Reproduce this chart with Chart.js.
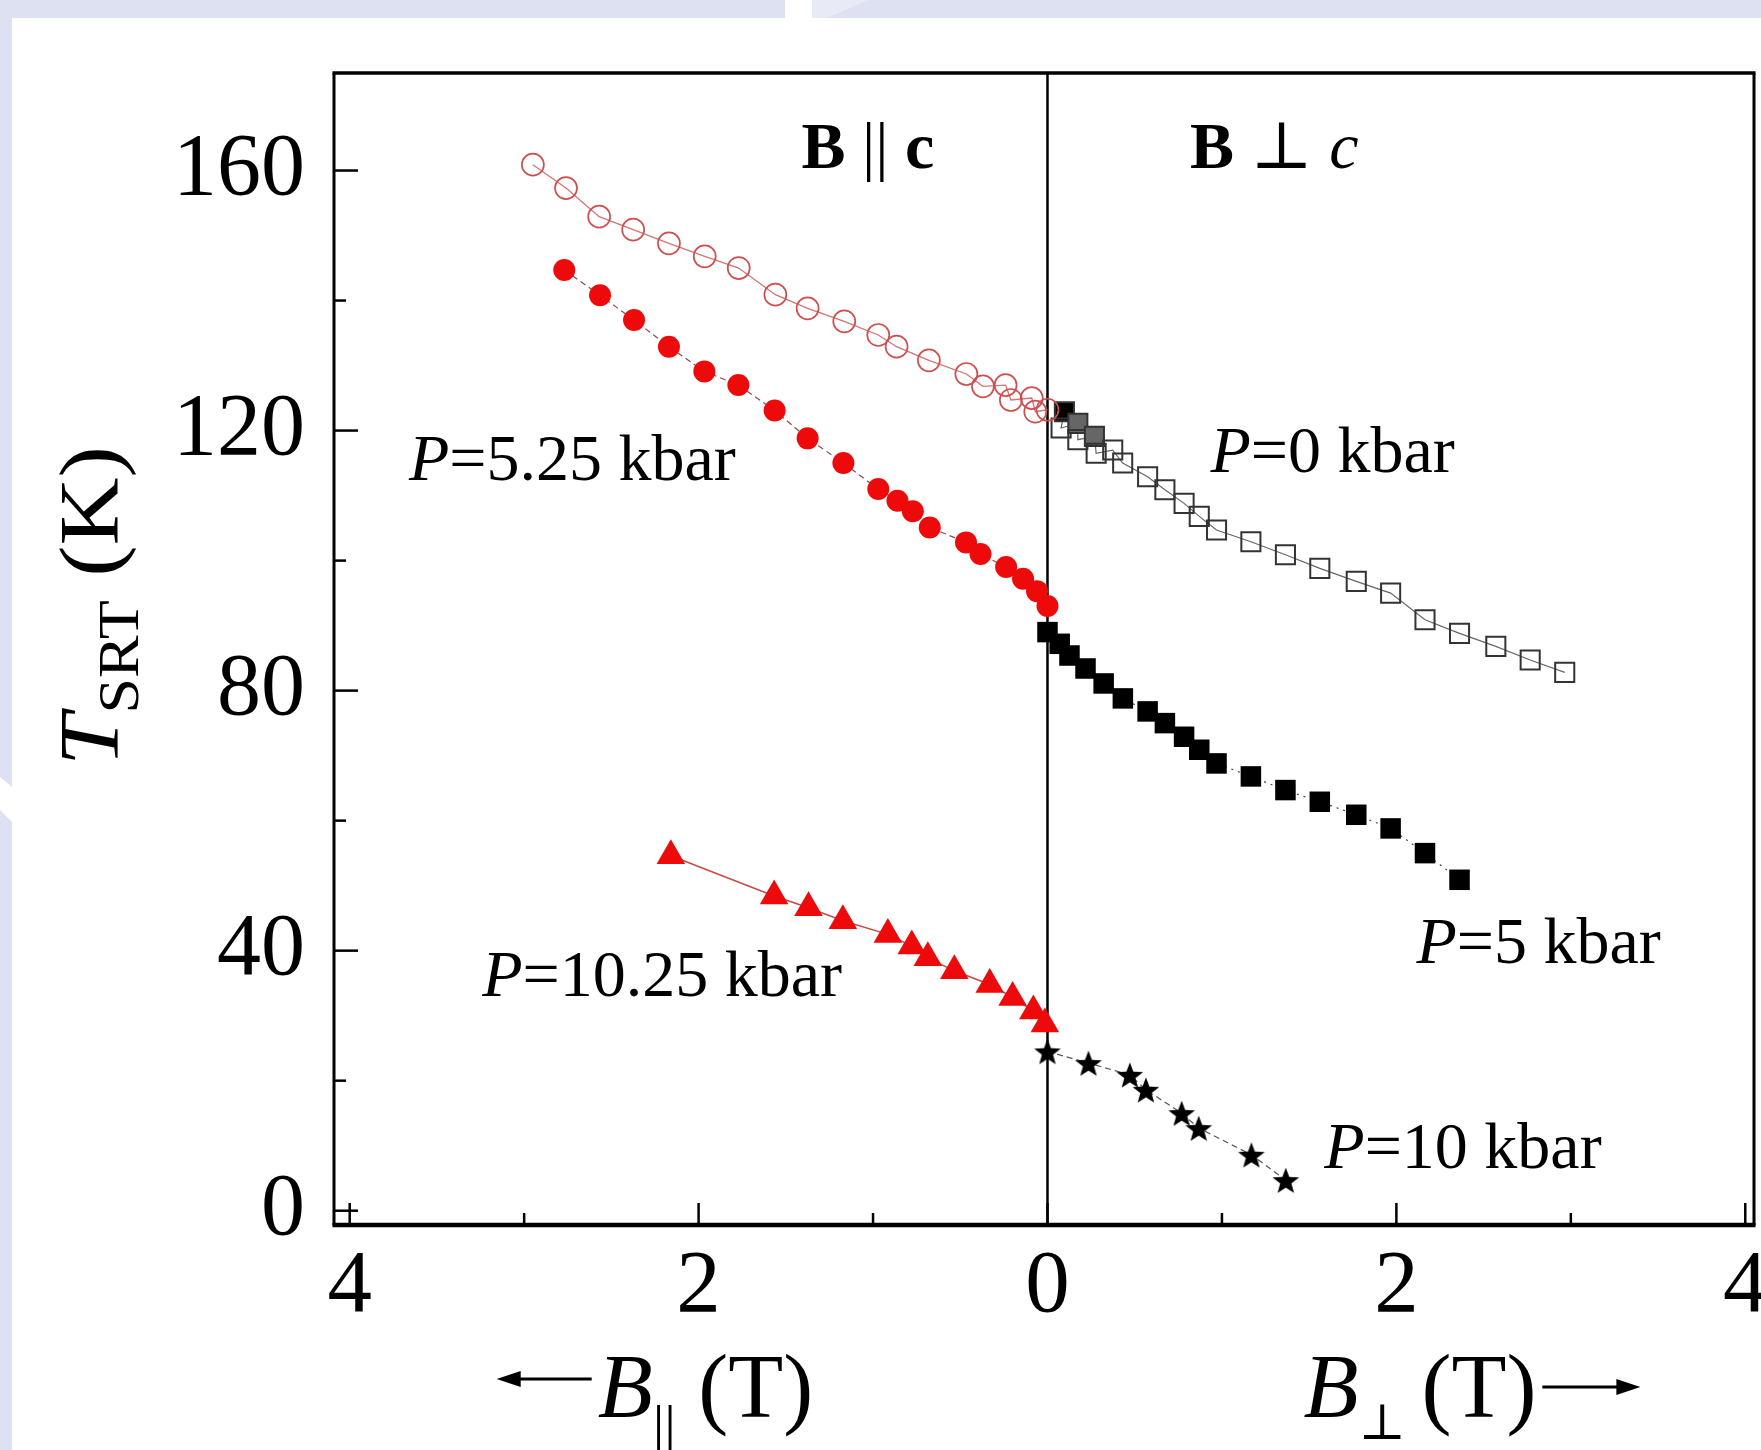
<!DOCTYPE html>
<html>
<head>
<meta charset="utf-8">
<title>T_SRT vs B</title>
<script src="https://cdn.jsdelivr.net/npm/chart.js@4.4.0/dist/chart.umd.min.js"></script>
<style>
    html, body { margin: 0; padding: 0; }
    body { width: 1761px; height: 1450px; overflow: hidden; position: relative; background: #dde1f1; }
    #sheet { position: absolute; left: 12px; top: 18px; right: 0; bottom: 0; background: #fff; }
    #cutTop { position: absolute; left: 785px; top: 0; width: 27px; height: 18px; background: #fff; }
    #lightTop { position: absolute; left: 812px; top: 0; width: 56px; height: 18px; background: #e8ebf6;
                clip-path: polygon(0 0, 100% 0, 15px 100%, 0 100%); }
    #cutLeft { position: absolute; left: 0; top: 777px; width: 12px; height: 45px; background: #fff;
               clip-path: polygon(0 0, 100% 10px, 100% 100%, 0 33px); }
    #wrap { position: absolute; left: 0; top: 0; width: 1800px; height: 1450px; }
</style>
</head>
<body>
<div id="sheet"></div>
<div id="cutTop"></div>
<div id="lightTop"></div>
<div id="cutLeft"></div>
<div id="wrap"><canvas id="grafico" width="1800" height="1450"></canvas></div>
<script>
// P = 0 kbar, B || c (open circles); field values in T, plotted to the left
const bParP0 = [2.95, 2.76, 2.57, 2.375, 2.17, 1.965, 1.77, 1.56, 1.375, 1.165, 0.97, 0.865, 0.68, 0.465, 0.37, 0.24, 0.21, 0.09, 0.07, 0.0];
const tParP0 = [160.9, 157.3, 152.9, 150.9, 148.8, 146.8, 145.0, 140.9, 138.8, 136.8, 134.7, 132.9, 130.8, 128.7, 126.8, 127.0, 124.7, 125.0, 122.9, 123.2];

// P = 5.25 kbar, B || c (filled circles)
const bParP525 = [2.77, 2.565, 2.37, 2.17, 1.967, 1.772, 1.564, 1.375, 1.17, 0.97, 0.86, 0.772, 0.675, 0.467, 0.384, 0.237, 0.14, 0.06, 0.0];
const tParP525 = [144.7, 140.8, 137.0, 132.9, 129.1, 127.0, 123.1, 118.8, 115.0, 111.0, 109.2, 107.6, 105.1, 102.8, 101.0, 99.0, 97.2, 95.3, 93.0];

// P = 10.25 kbar, B || c (triangles)
const bParP1025 = [2.159, 1.567, 1.37, 1.173, 0.915, 0.778, 0.686, 0.534, 0.331, 0.2, 0.081, 0.015];
const tParP1025 = [54.6, 48.4, 46.6, 44.6, 42.5, 40.7, 38.9, 36.9, 34.8, 32.8, 30.7, 28.7];

// P = 0 kbar, B perp c (open squares)
const bPerpP0 = [0.097, 0.078, 0.174, 0.174, 0.269, 0.279, 0.374, 0.431, 0.574, 0.673, 0.783, 0.87, 0.969, 1.166, 1.364, 1.561, 1.77, 1.967, 2.164, 2.362, 2.57, 2.767, 2.965];
const tPerpP0 = [122.9, 120.4, 121.1, 118.6, 119.1, 116.5, 117.0, 115.0, 112.9, 110.9, 108.8, 106.8, 104.7, 102.9, 100.9, 98.8, 96.8, 95.0, 90.9, 88.8, 86.8, 84.7, 82.8];

// P = 5 kbar, B perp c (filled squares)
const bPerpP5 = [0.0, 0.07, 0.126, 0.218, 0.322, 0.432, 0.574, 0.673, 0.783, 0.87, 0.969, 1.166, 1.364, 1.561, 1.77, 1.967, 2.164, 2.362];
const tPerpP5 = [89.0, 87.2, 85.4, 83.4, 81.1, 78.8, 76.8, 75.0, 72.9, 70.9, 68.8, 66.8, 64.7, 62.9, 60.9, 58.8, 55.0, 50.9];

// P = 10 kbar, B perp c (stars)
const bPerpP10 = [0.0, 0.235, 0.472, 0.564, 0.769, 0.867, 1.169, 1.366];
const tPerpP10 = [24.5, 22.7, 20.9, 18.6, 15.0, 12.7, 8.6, 4.7];

// ejes
const xTicks = [-4, -2, 0, 2, 4];
const xMinor = [-3, -1, 1, 3];
const yTicks = [0, 40, 80, 120, 160];
const yMinor = [20, 60, 100, 140];

// textos dentro del gráfico (posición en unidades de datos)
const notes = [
    { x: -1.03, y: 163.8, align: "center", parts: [["B", "bold"], [" || ", "normal"], ["c", "bold"]] },
    { x: 1.30, y: 163.8, align: "center", parts: [["B", "bold"], [" \u22A5 ", "normal"], ["c", "italic"]] },
    { x: -3.66, y: 115.8, align: "left", parts: [["P", "italic"], ["=5.25 kbar", "normal"]] },
    { x: 0.934, y: 116.9, align: "left", parts: [["P", "italic"], ["=0 kbar", "normal"]] },
    { x: -3.24, y: 36.3, align: "left", parts: [["P", "italic"], ["=10.25 kbar", "normal"]] },
    { x: 2.115, y: 41.5, align: "left", parts: [["P", "italic"], ["=5 kbar", "normal"]] },
    { x: 1.587, y: 9.9, align: "left", parts: [["P", "italic"], ["=10 kbar", "normal"]] }
];

const serif = "'Liberation Serif', 'DejaVu Serif', serif";
const font = (style, size) => `${style} ${size}px ${serif}`;

// B || c se dibuja hacia la izquierda (x negativo)
const toLeft = (bs, ts) => bs.map((b, i) => ({ x: -b, y: ts[i] }));
const toRight = (bs, ts) => bs.map((b, i) => ({ x: b, y: ts[i] }));

function makeStar(size) {
    const c = document.createElement("canvas");
    c.width = size;
    c.height = size;
    const g = c.getContext("2d");
    const R = size / 2, r = R * 0.42;
    g.beginPath();
    for (let i = 0; i < 10; i++) {
        const a = -Math.PI / 2 + i * Math.PI / 5;
        const rad = i % 2 ? r : R;
        g.lineTo(R + rad * Math.cos(a), R + 1.5 + rad * Math.sin(a));
    }
    g.closePath();
    g.fillStyle = "#000";
    g.fill();
    return c;
}

const clear = "rgba(0,0,0,0)";
const squareFill = tPerpP0.map((t, i) => i === 0 ? "#000" : (i === 2 || i === 4) ? "#666" : clear);

function drawRich(ctx, x, y, parts, align) {
    let w = 0;
    parts.forEach(p => { ctx.font = p[1]; w += ctx.measureText(p[0]).width; });
    let cx = align === "center" ? x - w / 2 : x;
    parts.forEach(p => {
        ctx.font = p[1];
        ctx.fillText(p[0], cx, y + (p[2] || 0));
        cx += ctx.measureText(p[0]).width;
    });
    return w;
}

function drawArrow(ctx, x1, x2, y) {
    const dir = Math.sign(x2 - x1);
    ctx.beginPath();
    ctx.moveTo(x1, y);
    ctx.lineTo(x2 - dir * 16, y);
    ctx.lineWidth = 3;
    ctx.stroke();
    ctx.beginPath();
    ctx.moveTo(x2, y);
    ctx.lineTo(x2 - dir * 24, y - 8);
    ctx.lineTo(x2 - dir * 24, y + 8);
    ctx.closePath();
    ctx.fill();
}

const marcoPlugin = {
    id: "marco",
    beforeDatasetsDraw(chart) {
        const { ctx, chartArea: a, scales: { x, y } } = chart;
        ctx.save();
        ctx.strokeStyle = "#000";
        ctx.lineCap = "butt";
        // línea vertical en B = 0
        const x0 = x.getPixelForValue(0);
        ctx.lineWidth = 2.5;
        ctx.beginPath();
        ctx.moveTo(x0, a.top);
        ctx.lineTo(x0, a.bottom);
        ctx.stroke();
        // marcas hacia adentro
        ctx.lineWidth = 2.5;
        yTicks.forEach(v => { const p = y.getPixelForValue(v); ctx.beginPath(); ctx.moveTo(a.left, p); ctx.lineTo(a.left + 24, p); ctx.stroke(); });
        yMinor.forEach(v => { const p = y.getPixelForValue(v); ctx.beginPath(); ctx.moveTo(a.left, p); ctx.lineTo(a.left + 12, p); ctx.stroke(); });
        xTicks.forEach(v => { const p = x.getPixelForValue(v); ctx.beginPath(); ctx.moveTo(p, a.bottom); ctx.lineTo(p, a.bottom - 22); ctx.stroke(); });
        xMinor.forEach(v => { const p = x.getPixelForValue(v); ctx.beginPath(); ctx.moveTo(p, a.bottom); ctx.lineTo(p, a.bottom - 12); ctx.stroke(); });
        // marco
        ctx.lineWidth = 3.5;
        ctx.beginPath(); ctx.moveTo(a.left - 1.5, a.top); ctx.lineTo(a.right + 1.5, a.top); ctx.stroke();
        ctx.lineWidth = 3;
        ctx.beginPath(); ctx.moveTo(a.left, a.top); ctx.lineTo(a.left, a.bottom); ctx.stroke();
        ctx.beginPath(); ctx.moveTo(a.right, a.top); ctx.lineTo(a.right, a.bottom); ctx.stroke();
        ctx.lineWidth = 4.5;
        ctx.beginPath(); ctx.moveTo(a.left - 1.5, a.bottom); ctx.lineTo(a.right + 1.5, a.bottom); ctx.stroke();
        ctx.restore();
    },
    afterDraw(chart) {
        const { ctx, chartArea: a, scales: { x, y } } = chart;
        ctx.save();
        ctx.fillStyle = "#000";
        ctx.strokeStyle = "#000";
        ctx.textBaseline = "alphabetic";
        // anotaciones
        const size = 66;
        notes.forEach(n => {
            const parts = n.parts.map(p => [p[0], font(p[1], size)]);
            drawRich(ctx, x.getPixelForValue(n.x), y.getPixelForValue(n.y) + 0.33 * size, parts, n.align);
        });

        // título eje y: T_SRT (K), algo estirado a lo largo del texto
        ctx.save();
        ctx.translate(a.left - 216, y.getPixelForValue(93));
        ctx.rotate(-Math.PI / 2);
        ctx.scale(1.12, 1);
        drawRich(ctx, 0, 0, [["T", font("italic", 84)], ["SRT", font("normal", 57), 20], [" (K)", font("normal", 84)]], "center");
        ctx.restore();

        // títulos eje x con flechas
        const base = a.bottom + 192;
        const big = 90;
        const leftParts = [["B", font("italic", big)], ["||", font("normal", 58), 28], [" (T)", font("normal", big)]];
        let w = 0;
        leftParts.forEach(p => { ctx.font = p[1]; w += ctx.measureText(p[0]).width; });
        const cL = x.getPixelForValue(-2.25);
        const totalL = 101 + w;
        const startL = cL - totalL / 2;
        drawArrow(ctx, startL + 95, startL, base - 38);
        drawRich(ctx, startL + 101, base, leftParts, "left");

        const rightParts = [["B", font("italic", big)], ["\u22A5", font("normal", 50), 22], ["(T)", font("normal", big)]];
        w = 0;
        rightParts.forEach(p => { ctx.font = p[1]; w += ctx.measureText(p[0]).width; });
        w += 16;
        const cR = x.getPixelForValue(2.43);
        const totalR = w + 103;
        const startR = cR - totalR / 2;
        drawRich(ctx, startR, base, rightParts.slice(0, 2), "left");
        ctx.font = rightParts[0][1];
        let wb = ctx.measureText("B").width;
        ctx.font = rightParts[1][1];
        wb += ctx.measureText("\u22A5").width;
        drawRich(ctx, startR + wb + 16, base, rightParts.slice(2), "left");
        drawArrow(ctx, startR + w + 6, startR + w + 104, base - 30);
        ctx.restore();
    }
};

const ctx = document.getElementById("grafico").getContext("2d");
new Chart(ctx, {
    type: "line",
    data: {
        datasets: [
            {
                label: "P=0 kbar, B||c",
                data: toLeft(bParP0, tParP0),
                borderColor: "#d27474",
                borderWidth: 1.3,
                pointStyle: "circle",
                pointRadius: 11,
                pointBorderWidth: 1.7,
                pointBorderColor: "#cf4f4f",
                pointBackgroundColor: clear
            },
            {
                label: "P=5.25 kbar, B||c",
                data: toLeft(bParP525, tParP525),
                borderColor: "#8a4a4a",
                borderWidth: 1.2,
                borderDash: [6, 4],
                pointStyle: "circle",
                pointRadius: 11,
                pointBorderWidth: 0,
                pointBackgroundColor: "#ee0a0a"
            },
            {
                label: "P=10.25 kbar, B||c",
                data: toLeft(bParP1025, tParP1025),
                borderColor: "#c84848",
                borderWidth: 1.5,
                pointStyle: "triangle",
                pointRadius: 16.5,
                pointBorderWidth: 0,
                pointBackgroundColor: "#ee0a0a"
            },
            {
                label: "P=0 kbar, B perp c",
                data: toRight(bPerpP0, tPerpP0),
                borderColor: "#666",
                borderWidth: 1.2,
                pointStyle: "rect",
                pointRadius: 13.5,
                pointBorderWidth: 2,
                pointBorderColor: "#333",
                pointBackgroundColor: squareFill
            },
            {
                label: "P=5 kbar, B perp c",
                data: toRight(bPerpP5, tPerpP5),
                borderColor: "#444",
                borderWidth: 1.2,
                borderDash: [2, 5],
                pointStyle: "rect",
                pointRadius: 14.5,
                pointBorderWidth: 0,
                pointBackgroundColor: "#000"
            },
            {
                label: "P=10 kbar, B perp c",
                data: toRight(bPerpP10, tPerpP10),
                borderColor: "#555",
                borderWidth: 1.2,
                borderDash: [6, 4],
                pointStyle: makeStar(28),
                pointRadius: 14
            }
        ]
    },
    options: {
        responsive: false,
        animation: false,
        layout: { padding: { top: 73, right: 46, left: 0, bottom: 0 } },
        plugins: {
            legend: { display: false },
            tooltip: { enabled: false }
        },
        elements: { line: { tension: 0, fill: false } },
        scales: {
            x: {
                type: "linear",
                min: -4.09,
                max: 4.05,
                grid: { display: false, drawTicks: false },
                border: { display: false },
                afterBuildTicks: s => { s.ticks = xTicks.map(v => ({ value: v })); },
                afterFit: s => { s.height = 225; s.paddingLeft = 0; s.paddingRight = 0; },
                ticks: {
                    callback: v => Math.abs(v),
                    font: { family: serif, size: 89 },
                    color: "#000",
                    padding: 9,
                    maxRotation: 0,
                    autoSkip: false
                }
            },
            y: {
                type: "linear",
                min: -2.2,
                max: 175,
                grid: { display: false, drawTicks: false },
                border: { display: false },
                afterBuildTicks: s => { s.ticks = yTicks.map(v => ({ value: v })); },
                afterFit: s => { s.width = 334; s.paddingTop = 0; s.paddingBottom = 0; },
                ticks: {
                    font: { family: serif, size: 88 },
                    color: "#000",
                    padding: 29,
                    autoSkip: false
                }
            }
        }
    },
    plugins: [marcoPlugin]
});
</script>
</body>
</html>
